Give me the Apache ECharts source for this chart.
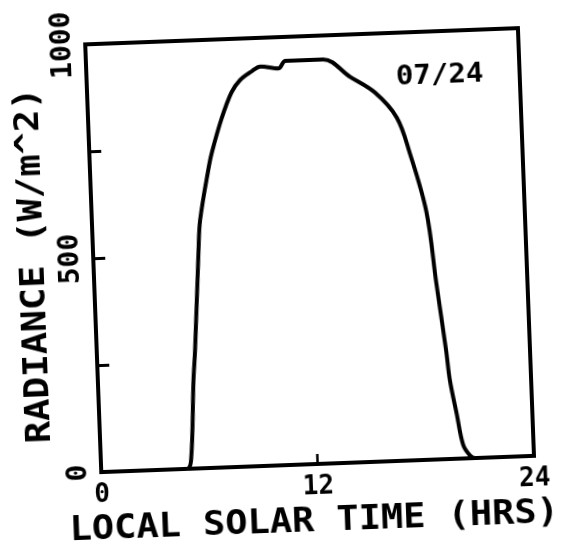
<!DOCTYPE html>
<html>
<head>
<meta charset="utf-8">
<title>Radiance 07/24</title>
<script src="https://cdn.jsdelivr.net/npm/echarts@6/dist/echarts.min.js"></script>
<style>
  html, body { margin: 0; padding: 0; background: #fff; overflow: hidden; }
  /* the plotted sheet sits slightly askew on the page */
  #chart { width: 573px; height: 549px; transform: rotate(-2.15deg); }
</style>
</head>
<body>
<div id="chart"></div>
<script>
// Local solar time (hours) and measured radiance (W/m^2)
const hours = [0, 4.75, 5.0, 5.3, 5.45, 5.85, 6.0, 6.6, 6.8, 7.4, 8.0, 8.5, 9.15, 9.65,
               10.65, 11.05, 13.15, 14.6, 15.95, 17.1, 17.75, 18.55, 18.95, 19.35, 19.5,
               19.8, 20.1, 20.45, 20.75, 24];
const radiance = [0, 0, 20, 207, 277, 510, 580, 705, 738, 815, 875, 903, 922, 933,
                  927, 944, 944, 901, 862, 802, 718, 579, 412, 255, 184,
                  107, 32, 7, 0, 0];

// Axis tick labels
const xTickLabels = ['0', '12', '24'];
const xTickValues = [0, 12, 24];
const yTickLabels = ['0', '500', '1000'];
const yTickValues = [0, 500, 1000];

// Texts
const xTitle = 'LOCAL SOLAR TIME (HRS)';
const yTitle = 'RADIANCE (W/m^2)';
const dateLabel = '07/24';

const FONT = '"DejaVu Sans Mono", monospace';

const chart = echarts.init(document.getElementById('chart'), null, { renderer: 'canvas' });

chart.setOption({
  backgroundColor: '#fff',
  animation: false,
  grid: {
    left: 94, top: 37, width: 433, height: 428,
    show: true, borderColor: '#000', borderWidth: 4, backgroundColor: 'transparent'
  },
  xAxis: {
    type: 'value', min: 0, max: 24, interval: 12,
    axisLine: { show: false },
    splitLine: { show: false },
    axisTick: { show: true, inside: true, length: 10, lineStyle: { color: '#000', width: 2.5 } },
    axisLabel: {
      color: '#000', fontFamily: FONT, fontWeight: 'bold', fontSize: 26, margin: 10,
      formatter: v => { const i = xTickValues.indexOf(v); return i >= 0 ? xTickLabels[i] : ''; }
    }
  },
  yAxis: {
    type: 'value', min: 0, max: 1000, interval: 250,
    axisLine: { show: false },
    splitLine: { show: false },
    axisTick: { show: true, inside: true, length: 12, lineStyle: { color: '#000', width: 3 } },
    axisLabel: {
      color: '#000', fontFamily: FONT, fontWeight: 'bold', fontSize: 28, margin: 8, rotate: 90,
      formatter: v => { const i = yTickValues.indexOf(v); return i >= 0 ? yTickLabels[i] : ''; }
    }
  },
  series: [{
    type: 'line',
    data: hours.map((h, i) => [h, radiance[i]]),
    showSymbol: false,
    smooth: 0.35,
    lineStyle: { color: '#000', width: 4, join: 'round', cap: 'round' },
    clip: false
  }],
  graphic: [
    {
      type: 'text', x: 35, y: 256, rotation: Math.PI / 2, scaleX: 1.12,
      style: { text: yTitle, font: 'bold 33px ' + FONT, fill: '#000', align: 'center', verticalAlign: 'middle' }
    },
    {
      type: 'text', x: 305, y: 523, scaleX: 1.12,
      style: { text: xTitle, font: 'bold 33px ' + FONT, fill: '#000', align: 'center', verticalAlign: 'middle' }
    },
    {
      type: 'text', x: 447, y: 82, scaleX: 1.12,
      style: { text: dateLabel, font: 'bold 26px ' + FONT, fill: '#000', align: 'center', verticalAlign: 'middle' }
    }
  ]
});
</script>
</body>
</html>
